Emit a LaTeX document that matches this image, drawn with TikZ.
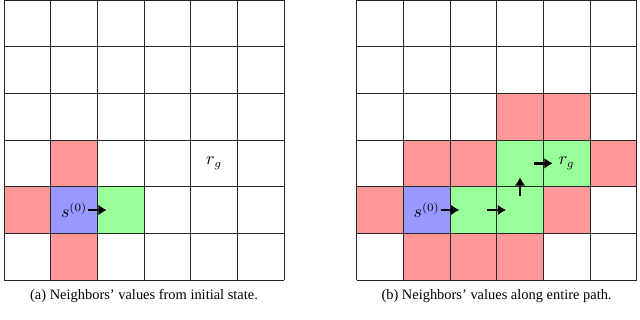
\documentclass[tikz,border=0pt]{standalone}
\usepackage{amsmath}
\usepackage[no-math]{fontspec}
\setmainfont{Liberation Serif}
\usetikzlibrary{arrows.meta,positioning}
\tikzset{
  wall/.style ={fill=red!40},
  origin/.style={fill=blue!40},
  visited/.style ={fill=green!40},
  gridline/.style={draw=black!85, line width=0.5pt},
  lbl/.style ={inner sep=0pt, font=\fontsize{10.5}{12}\selectfont},
  move/.style={-{Latex[length=5pt,width=6.5pt]}, line width=1.6pt},
  subcap/.style ={inner sep=0pt, font=\fontsize{8.8}{10}\selectfont},
}

\begin{document}
\begin{tikzpicture}
\useasboundingbox (0,-0.836) rectangle (13.714,6);
% (a) one step from the start cell
\begin{scope}[xshift=0.086cm]
\fill[wall] (0,1) rectangle ++(1,1);
\fill[wall] (1,2) rectangle ++(1,1);
\fill[wall] (1,0) rectangle ++(1,1);
\fill[origin] (1,1) rectangle ++(1,1);
\fill[visited] (2,1) rectangle ++(1,1);
\draw[gridline] (0,0) grid (6,6);
\node[lbl] (sa) at (1.5,1.5) {$s^{(0)}$};
\node[lbl] (ga) at (4.5,2.5) {$r_g$};
\coordinate (a0) at (1.8,1.5);
\coordinate (a1) at (2.2,1.5);
\draw[move] (a0) -- (a1);
\end{scope}
\node[subcap] (capa) at (3.086,-0.34) {(a) Neighbors' values from initial state.};
% (b) every step along the path
\begin{scope}[xshift=7.643cm]
\foreach \c/\r in {0/1, 1/0, 2/0, 3/0, 1/2, 2/2, 3/3, 4/3, 5/2, 4/1}
  \fill[wall] (\c,\r) rectangle ++(1,1);
\fill[origin] (1,1) rectangle ++(1,1);
\foreach \c/\r in {2/1, 3/1, 3/2, 4/2}
  \fill[visited] (\c,\r) rectangle ++(1,1);
\draw[gridline] (0,0) grid (6,6);
\node[lbl] (sb) at (1.5,1.5) {$s^{(0)}$};
\node[lbl] (gb) at (4.5,2.5) {$r_g$};
\coordinate (b0) at (1.8,1.5);
\coordinate (b1) at (2.2,1.5);
\coordinate (b2) at (2.8,1.5);
\coordinate (b3) at (3.2,1.5);
\coordinate (b4) at (3.5,1.8);
\coordinate (b5) at (3.5,2.2);
\coordinate (b6) at (3.8,2.5);
\coordinate (b7) at (4.2,2.5);
\draw[move] (b0) -- (b1);
\draw[move] (b2) -- (b3);
\draw[move] (b4) -- (b5);
\draw[move] (b6) -- (b7);
\end{scope}
\node[subcap] (capb) at (10.64,-0.34) {(b) Neighbors' values along entire path.};
\end{tikzpicture}
\end{document}
